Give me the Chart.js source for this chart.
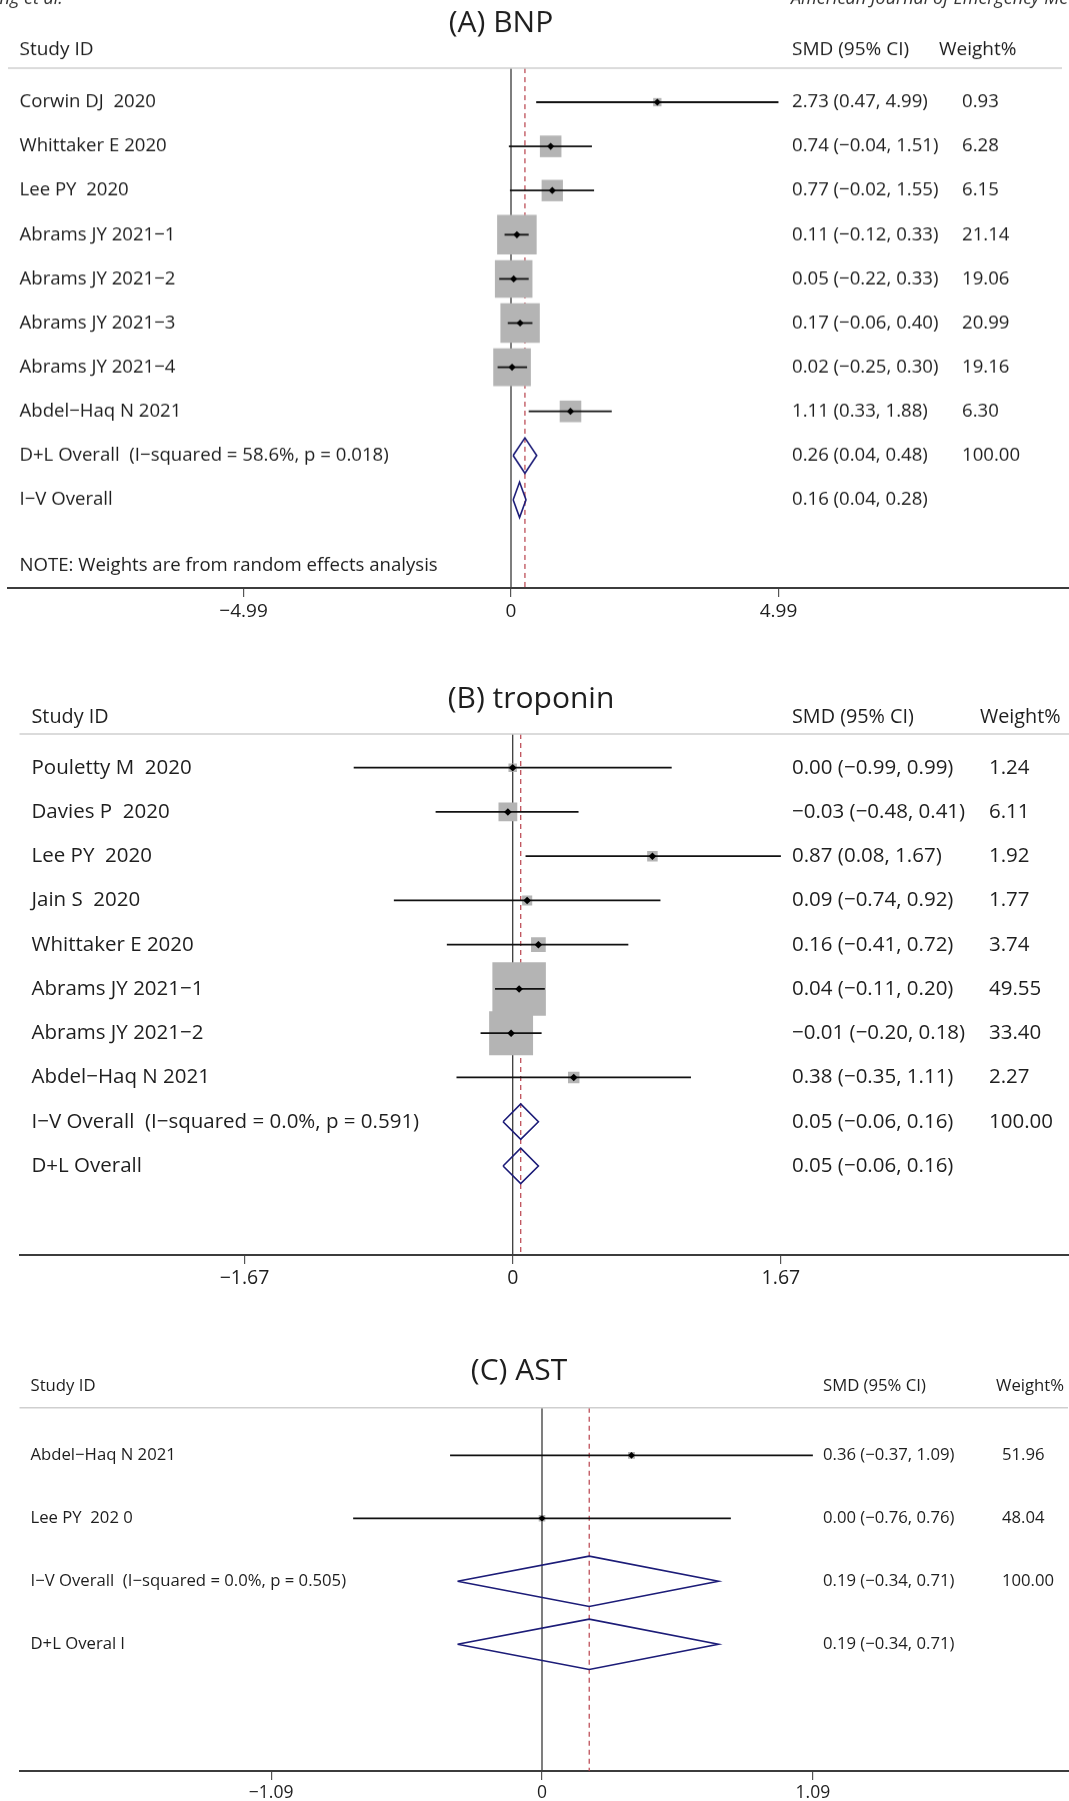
<!DOCTYPE html>
<html lang="en">
<head>
<meta charset="UTF-8">
<title>Forest plots: BNP, troponin, AST</title>
<script src="https://cdn.jsdelivr.net/npm/chart.js"></script>
<style>
    body { margin: 0; background: #fff; }
    .page { position: relative; width: 1069px; height: 1801px; overflow: hidden; background: #fff; }
    .panel { position: absolute; left: 0; width: 1069px; }
</style>
</head>
<body>
<div class="page">
    <div class="panel" id="bnpBox"><canvas id="bnpChart"></canvas></div>
    <div class="panel" id="tropBox"><canvas id="tropChart"></canvas></div>
    <div class="panel" id="astBox"><canvas id="astChart"></canvas></div>
</div>
<script>
// (A) BNP
const bnpStudies = ['Corwin DJ  2020', 'Whittaker E 2020', 'Lee PY  2020', 'Abrams JY 2021\u22121',
    'Abrams JY 2021\u22122', 'Abrams JY 2021\u22123', 'Abrams JY 2021\u22124', 'Abdel\u2212Haq N 2021'];
const bnpSmd = [2.73, 0.74, 0.77, 0.11, 0.05, 0.17, 0.02, 1.11];
const bnpLower = [0.47, -0.04, -0.02, -0.12, -0.22, -0.06, -0.25, 0.33];
const bnpUpper = [4.99, 1.51, 1.55, 0.33, 0.33, 0.40, 0.30, 1.88];
const bnpWeight = [0.93, 6.28, 6.15, 21.14, 19.06, 20.99, 19.16, 6.30];
const bnpPooledLabels = ['D+L Overall  (I\u2212squared = 58.6%, p = 0.018)', 'I\u2212V Overall'];
const bnpPooledSmd = [0.26, 0.16];
const bnpPooledLower = [0.04, 0.04];
const bnpPooledUpper = [0.48, 0.28];
const bnpPooledWeight = [100.00, null];
const bnpTicks = [-4.99, 0, 4.99];
const bnpTickLabels = ['\u22124.99', '0', '4.99'];

// (B) troponin
const tropStudies = ['Pouletty M  2020', 'Davies P  2020', 'Lee PY  2020', 'Jain S  2020',
    'Whittaker E 2020', 'Abrams JY 2021\u22121', 'Abrams JY 2021\u22122', 'Abdel\u2212Haq N 2021'];
const tropSmd = [0.00, -0.03, 0.87, 0.09, 0.16, 0.04, -0.01, 0.38];
const tropLower = [-0.99, -0.48, 0.08, -0.74, -0.41, -0.11, -0.20, -0.35];
const tropUpper = [0.99, 0.41, 1.67, 0.92, 0.72, 0.20, 0.18, 1.11];
const tropWeight = [1.24, 6.11, 1.92, 1.77, 3.74, 49.55, 33.40, 2.27];
const tropPooledLabels = ['I\u2212V Overall  (I\u2212squared = 0.0%, p = 0.591)', 'D+L Overall'];
const tropPooledSmd = [0.05, 0.05];
const tropPooledLower = [-0.06, -0.06];
const tropPooledUpper = [0.16, 0.16];
const tropPooledWeight = [100.00, null];
const tropTicks = [-1.67, 0, 1.67];
const tropTickLabels = ['\u22121.67', '0', '1.67'];

// (C) AST
const astStudies = ['Abdel\u2212Haq N 2021', 'Lee PY  202 0'];
const astSmd = [0.36, 0.00];
const astLower = [-0.37, -0.76];
const astUpper = [1.09, 0.76];
const astWeight = [51.96, 48.04];
const astPooledLabels = ['I\u2212V Overall  (I\u2212squared = 0.0%, p = 0.505)', 'D+L Overal l'];
const astPooledSmd = [0.19, 0.19];
const astPooledLower = [-0.34, -0.34];
const astPooledUpper = [0.71, 0.71];
const astPooledWeight = [100.00, null];
const astTicks = [-1.09, 0, 1.09];
const astTickLabels = ['\u22121.09', '0', '1.09'];

const FONT = "'Open Sans', 'DejaVu Sans', sans-serif";
const INK = '#1e1e1e';
const PAGE_W = 1069;

function fmt(v) {
    return (v < 0 ? '\u2212' : '') + Math.abs(v).toFixed(2);
}

function forest(canvasId, boxId, d, look) {
    const nStudies = d.studies.length;
    const labels = d.studies.concat(d.pooledLabels);
    const smd = d.smd.concat(d.pooledSmd);
    const lower = d.lower.concat(d.pooledLower);
    const upper = d.upper.concat(d.pooledUpper);
    const weight = d.weight.concat(d.pooledWeight);

    // row index -> pixel mapping through the y scale range
    const yMin = -(look.firstRowY - look.sepY) / look.rowGap;
    const yMax = (look.axisY - look.firstRowY) / look.rowGap;
    const xMin = (look.left - look.zeroX) / look.pxPerUnit;
    const xMax = (PAGE_W - look.zeroX) / look.pxPerUnit;

    const axisH = 9 + look.tickFont * 1.2 + 6;
    const box = document.getElementById(boxId);
    box.style.top = look.top + 'px';
    box.style.height = (look.axisY - look.top + axisH) + 'px';

    const datasets = [];
    // null line and pooled estimate line
    datasets.push({
        data: [{x: 0, y: yMin}, {x: 0, y: yMax}],
        borderColor: '#3a3a3a', borderWidth: 1.3, pointRadius: 0, order: 10
    });
    datasets.push({
        data: [{x: d.pooledSmd[0], y: yMin}, {x: d.pooledSmd[0], y: yMax}],
        borderColor: '#b8404a', borderWidth: 1.2, borderDash: [5, 4], pointRadius: 0, order: 9
    });
    // weight boxes
    datasets.push({
        data: d.smd.map((v, i) => ({x: v, y: i})),
        showLine: false, pointStyle: 'rect',
        pointRadius: ctx => look.boxK * Math.sqrt(d.weight[ctx.dataIndex]) / Math.SQRT2,
        pointBackgroundColor: '#b4b4b4', pointBorderWidth: 0, order: 8
    });
    // confidence intervals
    for (let i = 0; i < nStudies; i++) {
        datasets.push({
            data: [{x: d.lower[i], y: i}, {x: d.upper[i], y: i}],
            borderColor: '#111', borderWidth: 1.8, pointRadius: 0, order: 7
        });
    }
    // pooled diamonds
    d.pooledSmd.forEach((v, j) => {
        const r = nStudies + j;
        datasets.push({
            data: [
                {x: d.pooledLower[j], y: r}, {x: v, y: r - 0.4}, {x: d.pooledUpper[j], y: r},
                {x: v, y: r + 0.4}, {x: d.pooledLower[j], y: r}
            ],
            borderColor: '#1c1c78', borderWidth: 1.6, borderJoinStyle: 'miter',
            pointRadius: 0, fill: false, order: 6
        });
    });
    // point estimates
    datasets.push({
        data: d.smd.map((v, i) => ({x: v, y: i})),
        showLine: false, pointStyle: 'rectRot', pointRadius: look.dotR,
        pointBackgroundColor: '#000', pointBorderWidth: 0, order: 1
    });

    const textPlugin = {
        id: 'forestText',
        afterDraw(chart) {
            const ctx = chart.ctx;
            const ys = chart.scales.y;
            const off = look.top;
            ctx.save();
            ctx.fillStyle = INK;
            ctx.textBaseline = 'middle';

            if (look.running) {
                ctx.font = 'italic 18px ' + FONT;
                ctx.fillStyle = '#333';
                ctx.textAlign = 'left';
                ctx.fillText('Wang et al.', -26, -1);
                ctx.fillText('American Journal of Emergency Medicine', 791, -1);
                ctx.fillStyle = INK;
            }

            ctx.font = look.titleFont + 'px ' + FONT;
            ctx.textAlign = 'center';
            ctx.fillText(d.title, look.titleX, look.titleY - off);

            ctx.font = look.headFont + 'px ' + FONT;
            ctx.textAlign = 'left';
            ctx.fillText('Study ID', look.labelX, look.headerY - off);
            ctx.fillText('SMD (95% CI)', look.smdX, look.headerY - off);
            ctx.fillText('Weight%', look.weightHeadX, look.headerY - off);

            ctx.strokeStyle = '#cfcfcf';
            ctx.lineWidth = 1.5;
            ctx.beginPath();
            ctx.moveTo(look.sepLeft, look.sepY - off);
            ctx.lineTo(look.sepRight, look.sepY - off);
            ctx.stroke();

            ctx.font = look.font + 'px ' + FONT;
            labels.forEach((lab, i) => {
                const y = ys.getPixelForValue(i);
                ctx.fillText(lab, look.labelX, y);
                ctx.fillText(fmt(smd[i]) + ' (' + fmt(lower[i]) + ', ' + fmt(upper[i]) + ')', look.smdX, y);
                if (weight[i] !== null) {
                    ctx.fillText(weight[i].toFixed(2), look.weightX, y);
                }
            });
            if (look.note) {
                ctx.fillText(look.note, look.labelX, ys.getPixelForValue(look.noteRow));
            }
            ctx.restore();
        }
    };

    return new Chart(document.getElementById(canvasId), {
        type: 'line',
        data: {datasets: datasets},
        options: {
            responsive: true,
            maintainAspectRatio: false,
            devicePixelRatio: 1,
            animation: false,
            events: [],
            layout: {
                autoPadding: false,
                padding: {top: look.sepY - look.top, left: look.left, right: 0, bottom: 0}
            },
            plugins: {legend: {display: false}, tooltip: {enabled: false}, title: {display: false}},
            scales: {
                x: {
                    type: 'linear',
                    min: xMin,
                    max: xMax,
                    afterBuildTicks: scale => { scale.ticks = d.ticks.map(v => ({value: v})); },
                    afterFit: scale => { scale.paddingLeft = 0; scale.paddingRight = 0; },
                    ticks: {
                        autoSkip: false, padding: 3, color: INK,
                        font: {family: FONT, size: look.tickFont},
                        callback: (value, index) => d.tickLabels[index]
                    },
                    grid: {display: true, drawOnChartArea: false, drawTicks: true, tickLength: 9, color: '#555', lineWidth: 1.2},
                    border: {display: true, color: '#3c3c3c', width: 2}
                },
                y: {type: 'linear', reverse: true, min: yMin, max: yMax, display: false}
            }
        },
        plugins: [textPlugin]
    });
}

Chart.defaults.font.family = FONT;

forest('bnpChart', 'bnpBox', {
    title: '(A) BNP',
    studies: bnpStudies, smd: bnpSmd, lower: bnpLower, upper: bnpUpper, weight: bnpWeight,
    pooledLabels: bnpPooledLabels, pooledSmd: bnpPooledSmd, pooledLower: bnpPooledLower,
    pooledUpper: bnpPooledUpper, pooledWeight: bnpPooledWeight,
    ticks: bnpTicks, tickLabels: bnpTickLabels
}, {
    top: 0, sepY: 68, firstRowY: 102, rowGap: 44.1, axisY: 587,
    left: 8, zeroX: 511, pxPerUnit: 53.6, sepLeft: 8, sepRight: 1062,
    titleX: 501, titleY: 23, titleFont: 30, headerY: 50, headFont: 19,
    labelX: 19.5, smdX: 792, weightX: 962, weightHeadX: 939,
    font: 18.6, tickFont: 19, boxK: 8.6, dotR: 3.6,
    note: 'NOTE: Weights are from random effects analysis', noteRow: 10.5, running: true
});

forest('tropChart', 'tropBox', {
    title: '(B) troponin',
    studies: tropStudies, smd: tropSmd, lower: tropLower, upper: tropUpper, weight: tropWeight,
    pooledLabels: tropPooledLabels, pooledSmd: tropPooledSmd, pooledLower: tropPooledLower,
    pooledUpper: tropPooledUpper, pooledWeight: tropPooledWeight,
    ticks: tropTicks, tickLabels: tropTickLabels
}, {
    top: 640, sepY: 734, firstRowY: 767.7, rowGap: 44.25, axisY: 1255,
    left: 19.5, zeroX: 512.7, pxPerUnit: 160.6, sepLeft: 19.5, sepRight: 1069,
    titleX: 531, titleY: 699, titleFont: 30, headerY: 717, headFont: 19.8,
    labelX: 31.5, smdX: 792, weightX: 989, weightHeadX: 980,
    font: 20.5, tickFont: 19.5, boxK: 7.6, dotR: 3.8,
    note: null, noteRow: 0, running: false
});

forest('astChart', 'astBox', {
    title: '(C) AST',
    studies: astStudies, smd: astSmd, lower: astLower, upper: astUpper, weight: astWeight,
    pooledLabels: astPooledLabels, pooledSmd: astPooledSmd, pooledLower: astPooledLower,
    pooledUpper: astPooledUpper, pooledWeight: astPooledWeight,
    ticks: astTicks, tickLabels: astTickLabels
}, {
    top: 1298, sepY: 1407.7, firstRowY: 1455.3, rowGap: 63, axisY: 1771,
    left: 20, zeroX: 542, pxPerUnit: 248.5, sepLeft: 19.5, sepRight: 1068,
    titleX: 519, titleY: 1371, titleFont: 30, headerY: 1386, headFont: 16.7,
    labelX: 30.5, smdX: 823, weightX: 1002, weightHeadX: 996,
    font: 16.7, tickFont: 17.5, boxK: 0.95, dotR: 3.4,
    note: null, noteRow: 0, running: false
});
</script>
</body>
</html>
